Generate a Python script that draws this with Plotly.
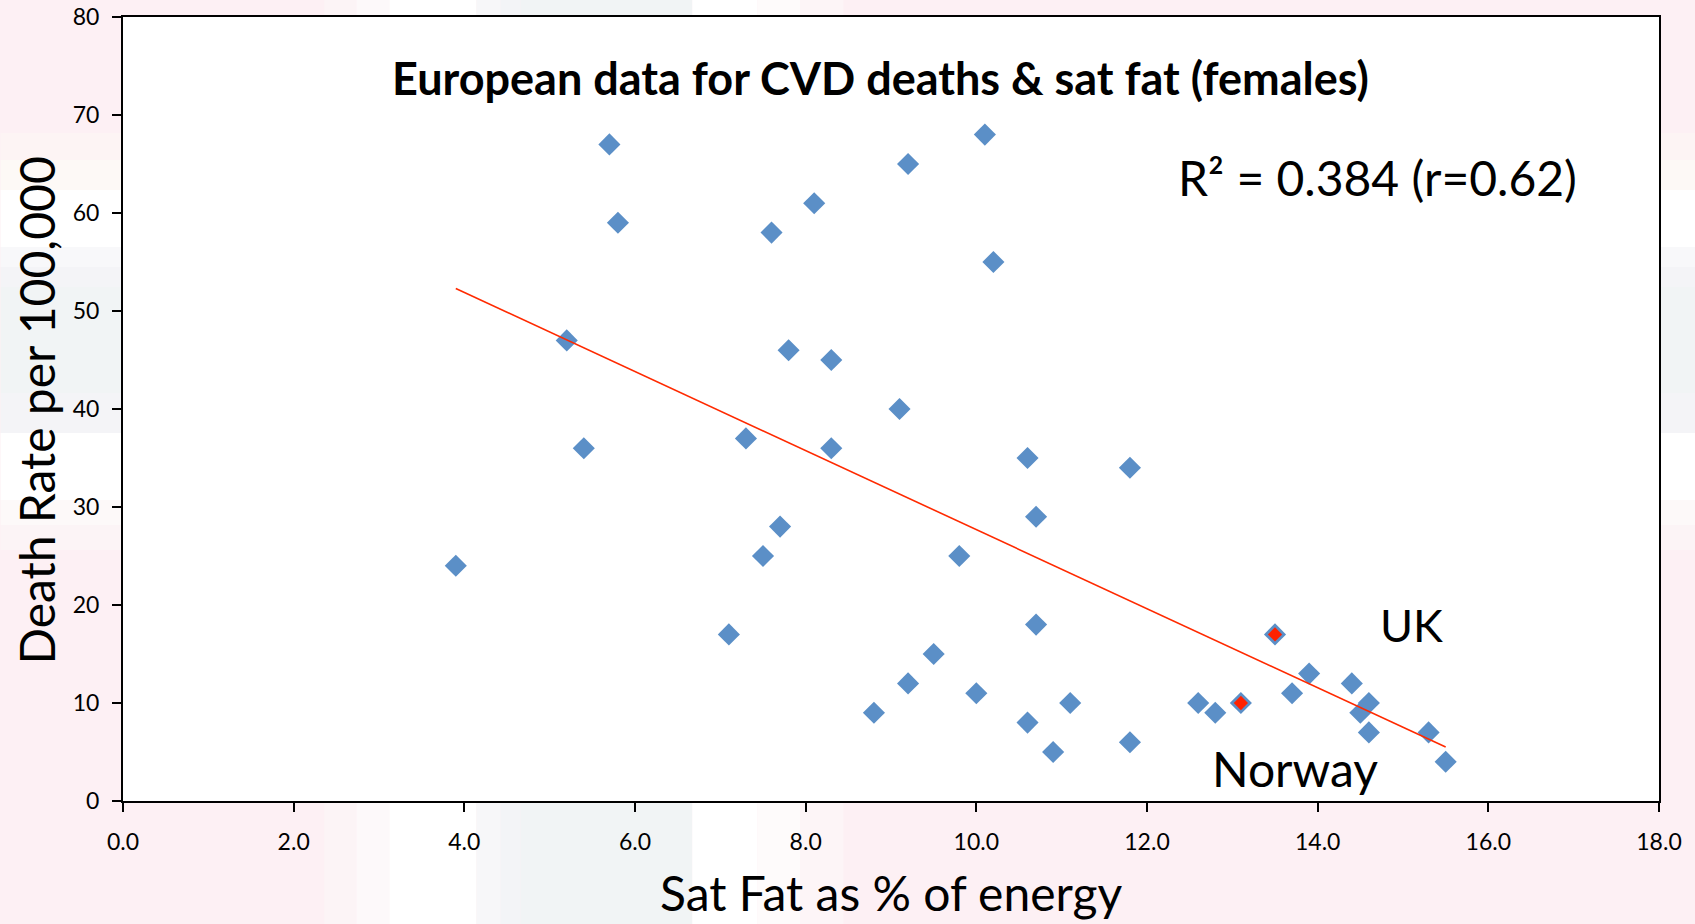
import plotly.graph_objects as go

# Data
sat_fat = [3.9, 5.2, 5.4, 5.7, 5.8, 7.1, 7.3, 7.5, 7.6, 7.7, 7.8, 8.1, 8.3, 8.3,
           8.8, 9.1, 9.2, 9.2, 9.5, 9.8, 10.0, 10.1, 10.2, 10.6, 10.6, 10.7, 10.7,
           10.9, 11.1, 11.8, 11.8, 12.6, 12.8, 13.1, 13.5, 13.7, 13.9, 14.4, 14.5,
           14.6, 14.6, 15.3, 15.5]
death_rate = [24, 47, 36, 67, 59, 17, 37, 25, 58, 28, 46, 61, 45, 36,
              9, 40, 65, 12, 15, 25, 11, 68, 55, 35, 8, 29, 18,
              5, 10, 34, 6, 10, 9, 10, 17, 11, 13, 12, 9,
              10, 7, 7, 4]

highlight_names = ["Norway", "UK"]
highlight_x = [13.1, 13.5]
highlight_y = [10, 17]

trend_x = [3.9, 15.5]
trend_y = [52.3, 5.5]

x_ticks = [0, 2, 4, 6, 8, 10, 12, 14, 16, 18]
y_ticks = [0, 10, 20, 30, 40, 50, 60, 70, 80]

FONT = "Lato"
BLUE = "#5b8fc7"
W, H = 1695, 924
L, R, T, B = 122.5, 1659, 17, 801

fig = go.Figure()
fig.add_trace(go.Scatter(x=sat_fat, y=death_rate, mode="markers",
                         marker=dict(symbol="diamond", size=17, color=BLUE,
                                     line=dict(width=0)),
                         showlegend=False))
fig.add_trace(go.Scatter(x=trend_x, y=trend_y, mode="lines",
                         line=dict(color="#ff2a00", width=1.6),
                         showlegend=False))
fig.add_trace(go.Scatter(x=highlight_x, y=highlight_y, mode="markers",
                         marker=dict(symbol="diamond", size=11, color="#ff2200",
                                     line=dict(width=0)),
                         text=highlight_names, showlegend=False))

# Slide background stripes (paper pixel coordinates -> fractions)
def px_rect(x0, x1, y0, y1, color):
    return dict(type="rect", xref="paper", yref="paper", layer="below",
                x0=(x0 - L) / (R - L), x1=(x1 - L) / (R - L),
                y0=(B - y1) / (B - T), y1=(B - y0) / (B - T),
                fillcolor=color, line=dict(width=0))

shapes = []
# vertical band (top / bottom)
for x0, x1, c in [(324, 356, "#fcf4f6"), (356, 389, "#fdf9fa"), (389, 476, "#ffffff"),
                  (476, 500, "#f7f7f9"), (500, 520, "#f3f4f7"),
                  (520, 692, "#f1f4f5"), (692, 757, "#ffffff"), (757, 800, "#fefbfb"),
                  (800, 843, "#fdf5f7")]:
    shapes.append(px_rect(x0, x1, 0, H, c))
# horizontal band (left / right)
for y0, y1, c in [(133, 160, "#fdf4f4"), (160, 190, "#fdf9f6"), (190, 247, "#ffffff"),
                  (247, 267, "#f8f8fa"), (267, 287, "#f4f4f7"),
                  (287, 393, "#f1f4f5"), (393, 433, "#f4f4f7"), (433, 500, "#ffffff"),
                  (500, 525, "#fdf9f9"), (525, 550, "#fcf4f6")]:
    shapes.append(px_rect(0, W, y0, y1, c))
# white plot area on top of stripes
shapes.append(dict(type="rect", xref="paper", yref="paper", layer="below",
                   x0=0, x1=1, y0=0, y1=1, fillcolor="white", line=dict(width=0)))

fig.update_layout(
    width=W, height=H,
    margin=dict(l=L, r=W - R, t=T, b=H - B, pad=0),
    paper_bgcolor="#fdf0f4",
    plot_bgcolor="white",
    font=dict(family=FONT, color="black"),
    shapes=shapes,
    xaxis=dict(range=[0, 18], tickvals=x_ticks,
               ticktext=[f"{v:.1f}" for v in x_ticks],
               showgrid=False, zeroline=False, showline=True, linecolor="black",
               linewidth=2, mirror=True, ticks="outside", ticklen=9,
               tickwidth=2, tickcolor="black", tickfont=dict(size=23, family=FONT),
               ticklabelstandoff=10, automargin=False),
    yaxis=dict(range=[0, 80], tickvals=y_ticks,
               showgrid=False, zeroline=False, showline=True, linecolor="black",
               linewidth=2, mirror=True, ticks="outside", ticklen=9,
               tickwidth=2, tickcolor="black", tickfont=dict(size=23, family=FONT),
               ticklabelstandoff=8, automargin=False),
    annotations=[
        dict(text="<b>European data for CVD deaths &amp; sat fat (females)</b>",
             x=(880 - L) / (R - L), y=(B - 78) / (B - T), xref="paper", yref="paper",
             xanchor="center", yanchor="middle", showarrow=False,
             font=dict(size=45, family=FONT)),
        dict(text="R² = 0.384 (r=0.62)", x=14.7, y=63.6, xref="x", yref="y",
             xanchor="center", yanchor="middle",
             showarrow=False, font=dict(size=48, family=FONT)),
        dict(text="UK", x=15.1, y=18, xref="x", yref="y", xanchor="center", yanchor="middle",
             showarrow=False, font=dict(size=45, family=FONT)),
        dict(text="Norway", x=13.74, y=3.3, xref="x", yref="y", xanchor="center", yanchor="middle",
             showarrow=False, font=dict(size=48, family=FONT)),
        dict(text="Death Rate per 100,000", x=(35 - L) / (R - L), y=(B - 411) / (B - T),
             xref="paper", yref="paper",
             textangle=-90, showarrow=False, xanchor="center", yanchor="middle",
             font=dict(size=48, family=FONT)),
        dict(text="Sat Fat as % of energy", x=(891 - L) / (R - L), y=(B - 892) / (B - T),
             xref="paper", yref="paper",
             showarrow=False, xanchor="center", yanchor="middle",
             font=dict(size=48, family=FONT)),
    ],
)

fig.write_html("out.html")
